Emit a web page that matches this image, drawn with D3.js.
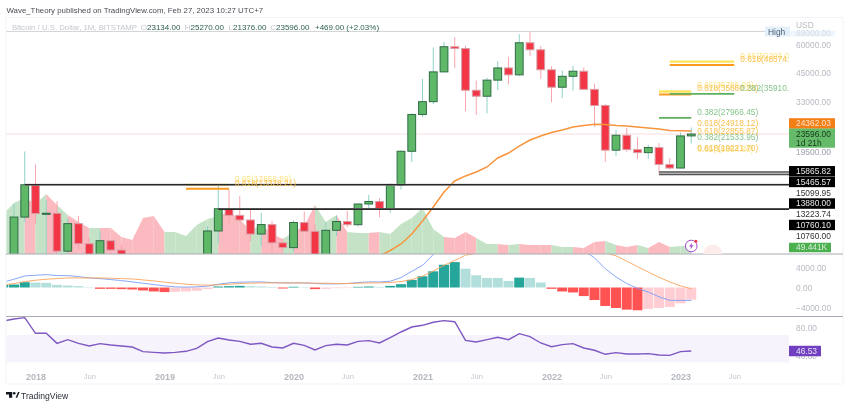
<!DOCTYPE html>
<html lang="en">

<head>
    <meta charset="UTF-8">
    <title>BTC monthly</title>
    <style>
        html, body {
            margin: 0;
            background: #fff;
        }

        svg {
            display: block;
            filter: blur(0.3px);
            font-family: "Liberation Sans", Arial, sans-serif;
        }

        .axis text {
            fill: #b7bac2;
            font-size: 8.4px;
        }
    </style>
    <script src="https://d3js.org/d3.v7.min.js"></script>
</head>

<body>
    <svg id="chart" width="850" height="407"></svg>

    <script>
        const months = [
            "2017-10", "2017-11", "2017-12",
            "2018-01", "2018-02", "2018-03", "2018-04", "2018-05", "2018-06", "2018-07", "2018-08", "2018-09", "2018-10", "2018-11", "2018-12",
            "2019-01", "2019-02", "2019-03", "2019-04", "2019-05", "2019-06", "2019-07", "2019-08", "2019-09", "2019-10", "2019-11", "2019-12",
            "2020-01", "2020-02", "2020-03", "2020-04", "2020-05", "2020-06", "2020-07", "2020-08", "2020-09", "2020-10", "2020-11", "2020-12",
            "2021-01", "2021-02", "2021-03", "2021-04", "2021-05", "2021-06", "2021-07", "2021-08", "2021-09", "2021-10", "2021-11", "2021-12",
            "2022-01", "2022-02", "2022-03", "2022-04", "2022-05", "2022-06", "2022-07", "2022-08", "2022-09", "2022-10", "2022-11", "2022-12",
            "2023-01", "2023-02"
        ];
        const futureMonths = ["2023-03", "2023-04", "2023-05", "2023-06"];

        const opens = [4340, 6440, 9900,
            13880, 10265, 10300, 6928, 9240, 7490, 6390, 7730, 7010, 6625, 6300, 4030,
            3690, 3430, 3810, 4100, 5260, 8560, 10800, 10080, 9600, 8290, 9150, 7560,
            7190, 9350, 8530, 6420, 8620, 9450, 9140, 11350, 11650, 10780, 13800, 19700,
            28950, 33100, 45200, 58800, 57700, 37300, 35040, 41460, 47100, 43820, 61300, 56950,
            46200, 38500, 43160, 45510, 37650, 31800, 19930, 23300, 20050, 19420, 20490, 17160,
            16530, 23134];
        const closes = [6440, 9900, 13880,
            10265, 10300, 6928, 9240, 7490, 6390, 7730, 7010, 6625, 6300, 4030, 3690,
            3430, 3810, 4100, 5260, 8560, 10800, 10080, 9600, 8290, 9150, 7560, 7190,
            9350, 8530, 6420, 8620, 9450, 9140, 11350, 11650, 10780, 13800, 19700, 28950,
            33100, 45200, 58800, 57700, 37300, 35040, 41460, 47100, 43820, 61300, 56950, 46200,
            38500, 43160, 45510, 37650, 31800, 19930, 23300, 20050, 19420, 20490, 17160, 16530,
            23134, 23596];
        const highs = [6470, 11400, 19666,
            17176, 11789, 11700, 9759, 10020, 7980, 8570, 7730, 7400, 6750, 6300, 4230,
            4070, 4200, 4100, 5650, 9000, 13880, 13200, 12320, 10900, 10370, 9500, 7900,
            9580, 10500, 9190, 9400, 10070, 10550, 11400, 12480, 12070, 14100, 19880, 29300,
            41950, 58350, 61780, 64900, 59500, 41300, 42500, 50500, 52900, 67000, 69000, 59100,
            47900, 45800, 48200, 47400, 40000, 32400, 24600, 25200, 22800, 21100, 21450, 18370,
            23960, 25270];
        const lows = [4110, 5370, 9400,
            9200, 5920, 6600, 6430, 6980, 5750, 6070, 5880, 6100, 6200, 3700, 3120,
            3350, 3380, 3670, 4050, 5200, 7450, 9100, 9400, 7710, 7300, 6500, 6430,
            6850, 8450, 3850, 6200, 8110, 8900, 8960, 10650, 9880, 10370, 13200, 17600,
            28130, 32300, 44950, 47000, 30000, 28800, 29300, 37300, 39600, 43200, 53300, 42000,
            32900, 34300, 37200, 37400, 25400, 17600, 18800, 19600, 18150, 18200, 15480, 16260,
            16500, 21376];

        // volume in thousands
        const volumes = [247, 315, 346,
            309, 371, 303, 241, 198, 161, 161, 161, 105, 87, 222, 235,
            136, 136, 111, 179, 216, 235, 260, 216, 142, 179, 124, 93,
            136, 173, 303, 198, 241, 136, 130, 130, 136, 124, 185, 222,
            284, 155, 105, 99, 136, 99, 62, 62, 56, 62, 56, 56,
            56, 43, 43, 37, 74, 80, 56, 43, 56, 37, 74, 43,
            50, 49.441];

        // moving average only reaches the pane from here on
        const smaStart = "2020-09";
        const smaValues = [6590, 6980, 7470, 8290,
            9500, 11000, 12860, 14440, 15220, 15860, 16720, 18360, 19340, 20810, 22160, 23110,
            23970, 24610, 25390, 25800, 26120, 26060, 25800, 25670, 25390, 25140, 24860, 24490,
            24440, 24362.03];

        const macdLine = [1070, 1670, 2330,
            2470, 2600, 2400, 2400, 2200, 1930, 1800, 1600, 1400, 1130, 870, 600,
            330, 130, 70, 130, 270, 670, 930, 1070, 1130, 1130, 1000, 930,
            930, 930, 800, 730, 730, 800, 1000, 1130, 1130, 1270, 2000, 3270,
            4470, 6670, 8400, 9600, 9000, 8000, 7600, 7700, 7600, 8600, 9000, 8500,
            8400, 8100, 7800, 7470, 6000, 3800, 2130, 800, -200, -930, -1870, -2600,
            -2600, -2600];
        const signalLine = [530, 800, 1200,
            1470, 1670, 1800, 1930, 1930, 1930, 1930, 1870, 1800, 1730, 1530, 1330,
            1070, 870, 670, 530, 470, 530, 670, 800, 870, 930, 930, 930,
            930, 930, 870, 870, 800, 800, 870, 930, 930, 1000, 1200, 1600,
            2270, 3330, 4470, 5470, 6530, 6900, 7200, 7300, 7400, 7500, 7700, 7900,
            7950, 7950, 7900, 7850, 7600, 7000, 6400, 5330, 4200, 3130, 2070, 1130,
            330, -270];
        const macdHist = [530, 600, 1070,
            1000, 930, 530, 400, 270, 70, -270, -270, -330, -400, -600, -800,
            -930, -870, -800, -670, -330, 200, 270, 330, 270, 200, 130, -200,
            150, 70, -330, -270, -130, -120, 130, 200, 130, 330, 670, 1530,
            2270, 3270, 4600, 5130, 3800, 2470, 1930, 1930, 1330, 2000, 1930, 1000,
            -270, -800, -1000, -1730, -2530, -3730, -4130, -4470, -4600, -4330, -4130, -3930,
            -3200, -2470];

        const rsiValues = [90.5, 93.4, 95.4,
            72.5, 72.5, 57.8, 63.2, 57.8, 53.9, 57.3, 55.4, 53.9, 52.4, 45.6, 44.6,
            43.7, 44.6, 46.1, 50.5, 60.3, 65.6, 62.7, 60.7, 56.4, 57.8, 52.4, 51,
            57.8, 54.9, 48.1, 54.4, 56.4, 55.4, 60.7, 61.7, 58.3, 66.1, 74.4, 81.7,
            84.2, 88.6, 91, 89.5, 62.2, 59.8, 63.2, 66.6, 63.2, 72, 67.6, 58.3,
            52.9, 55.9, 57.3, 51, 47.6, 41.7, 44.2, 42.2, 42.2, 42.7, 40.7, 40.2,
            45.6, 46.53];

        const priceTicks = [60000, 45000, 33000, 19500];
        const macdTicks = [4000, 0, -4000];
        const rsiTicks = [80, 40];
        const yearTicks = ["2018-01", "2019-01", "2020-01", "2021-01", "2022-01", "2023-01"];
        const halfTicks = ["2018-06", "2019-06", "2020-06", "2021-06", "2022-06", "2023-06"];

        // horizontal levels: price, from month, to month
        const supportLevels = [[13880, "2017-12"], [10760, "2019-06"], [15865.82, "2022-11"], [15465.57, "2022-11"]];
        const fibLevels618 = [[13328.21, "2019-03", "2019-07"], [48574, "2022-12", "2023-06"], [35660.23, "2022-11", "2023-02"]];
        const fibLevels65 = [[13856.89, "2019-03", "2019-07"], [50293, "2022-12", "2023-06"], [36786.99, "2022-11", "2023-02"]];
        const fibLevels382 = [[35910, "2022-12", "2023-06"], [27966.45, "2022-11", "2023-02"]];

        // text, price it sits over, month it starts after
        const fibLabels = [
            ["0.65(13856.89)", 13856.89, "2019-07"],
            ["0.618(13328.21)", 13328.21, "2019-07"],
            ["0.65(50293.0", 50293, "2023-06"],
            ["0.618(48574.", 48574, "2023-06"],
            ["0.65(36786.99)", 36786.99, "2023-02"],
            ["0.618(35660.23)", 35660.23, "2023-02"],
            ["0.382(35910.", 35910, "2023-06"],
            ["0.382(27966.45)", 27966.45, "2023-02"],
            ["0.618(24918.12)", 24918.12, "2023-02"],
            ["0.618(22855.87)", 22855.87, "2023-02"],
            ["0.382(21533.95)", 21533.95, "2023-02"],
            ["0.65(18854.80)", 18854.8, "2023-02"],
            ["0.618(19221.70)", 19221.7, "2023-02"]
        ];

        const legendValues = [["O", "23134.00"], ["H", "25270.00"], ["L", "21376.00"], ["C", "23596.00"]];
        const priceTags = ["15865.82", "15465.57", "15099.95", "13880.00", "13223.74", "10760.10", "10760.00"];
        const blackTags = ["15865.82", "15465.57", "13880.00", "10760.10"];

        const left = 6.5, axisX = 789, frameRight = 843;
        const paneBottom = 254, macdBottom = 316.5, frameBottom = 384;

        const svg = d3.select("#chart");

        const x = d3.scalePoint()
            .domain(months.concat(futureMonths))
            .range([3.25, 734.25]);
        const y = d3.scaleLog()
            .domain([60000, 10000])
            .range([44.8, 216.1]);
        const yVol = d3.scaleLinear().domain([0, 49.441]).range([paneBottom, 246]);
        const yMacd = d3.scaleLinear().domain([-4000, 4000]).range([307.3, 267.7]);
        const yRsi = d3.scaleLinear().domain([30, 70]).range([362.3, 335]);

        const defs = svg.append("defs");
        function addClip(id, top, bottom) {
            defs.append("clipPath").attr("id", id).append("rect")
                .attr("x", left).attr("y", top)
                .attr("width", axisX - left).attr("height", bottom - top);
        }
        addClip("clipPrice", 17, paneBottom);
        addClip("clipMacd", paneBottom, macdBottom);
        addClip("clipRsi", macdBottom, frameBottom);

        // frame
        svg.append("rect")
            .attr("x", 6).attr("y", 17.5)
            .attr("width", frameRight - 6).attr("height", frameBottom - 17.5)
            .attr("fill", "none").attr("stroke", "#f1f3f8");

        const pricePane = svg.append("g").attr("clip-path", "url(#clipPrice)");

        // volume, each stretch takes the colour of the month it ends on
        pricePane.append("g").selectAll("path")
            .data(months.slice(1))
            .join("path")
            .attr("d", (m, i) => d3.area()
                .x(d => x(d[0]))
                .y0(paneBottom)
                .y1(d => yVol(d[1]))([[months[i], volumes[i]], [m, volumes[i + 1]]]))
            .attr("fill", (m, i) => closes[i + 1] >= opens[i + 1] ? "#c4e3c6" : "#fbbac0");

        // price lines
        pricePane.append("line")
            .attr("x1", left).attr("x2", axisX)
            .attr("y1", y(69000)).attr("y2", y(69000))
            .attr("stroke", "#8b8e96").attr("stroke-width", 0.8).attr("stroke-dasharray", "1 1");
        pricePane.append("line")
            .attr("x1", left).attr("x2", axisX)
            .attr("y1", y(23596)).attr("y2", y(23596))
            .attr("stroke", "#f7a8ae").attr("stroke-width", 0.8).attr("stroke-dasharray", "1 1");

        // candles
        const candle = pricePane.append("g").selectAll("g")
            .data(months)
            .join("g");
        candle.append("line")
            .attr("x1", m => x(m)).attr("x2", m => x(m))
            .attr("y1", (m, i) => y(highs[i])).attr("y2", (m, i) => y(lows[i]))
            .attr("stroke", (m, i) => closes[i] >= opens[i] ? "#8dd2c6" : "#f8a6ad")
            .attr("stroke-width", 1);
        candle.append("rect")
            .attr("x", m => x(m) - 3.9)
            .attr("width", 7.8)
            .attr("y", (m, i) => y(Math.max(opens[i], closes[i])))
            .attr("height", (m, i) => Math.max(1, Math.abs(y(opens[i]) - y(closes[i]))))
            .attr("fill", (m, i) => closes[i] >= opens[i] ? "#5fb868" : "#f23645")
            .attr("stroke", (m, i) => closes[i] >= opens[i] ? "#2f6b45" : "#d9a0a8")
            .attr("stroke-width", 1);

        // moving average
        pricePane.append("path")
            .datum(smaValues)
            .attr("d", d3.line()
                .x((d, i) => x(months[months.indexOf(smaStart) + i]))
                .y(d => y(d)))
            .attr("fill", "none")
            .attr("stroke", "#f8943c")
            .attr("stroke-width", 1.5);

        // fib levels
        function drawLevels(levels, colour, dash, width) {
            svg.append("g").selectAll("line")
                .data(levels)
                .join("line")
                .attr("x1", d => x(d[1])).attr("x2", d => x(d[2]))
                .attr("y1", d => y(d[0])).attr("y2", d => y(d[0]))
                .attr("stroke", colour)
                .attr("stroke-width", width)
                .attr("stroke-dasharray", dash);
        }
        drawLevels(fibLevels65, "#fde25c", null, 2.4);
        drawLevels(fibLevels618, "#fb9a1e", null, 2);
        drawLevels(fibLevels382, "#5fb05f", null, 1.8);

        // supports and resistances
        supportLevels.forEach(([price, from]) => {
            svg.append("line")
                .attr("x1", x(from)).attr("x2", axisX)
                .attr("y1", y(price)).attr("y2", y(price))
                .attr("stroke", "#a5a5a5").attr("stroke-width", 2);
            svg.append("line")
                .attr("x1", x(from)).attr("x2", axisX)
                .attr("y1", y(price)).attr("y2", y(price))
                .attr("stroke", price > 15000 ? "#555" : "#000").attr("stroke-width", 1.1);
        });

        function fibColour(text) {
            if (text.startsWith("0.382")) return "#86c58c";
            if (text.startsWith("0.65")) return "#fde58a";
            return "#f9c14f";
        }
        svg.append("g").selectAll("text")
            .data(fibLabels)
            .join("text")
            .attr("x", d => x(d[2]) + 6)
            .attr("y", d => y(d[1]) - 6)
            .attr("dy", "0.35em")
            .attr("font-size", 8.3)
            .attr("fill", d => fibColour(d[0]))
            .text(d => d[0]);

        // MACD
        const macdPane = svg.append("g").attr("clip-path", "url(#clipMacd)");
        macdPane.append("g").selectAll("rect")
            .data(macdHist)
            .join("rect")
            .attr("x", (d, i) => x(months[i]) - 5)
            .attr("width", 10)
            .attr("y", d => Math.min(yMacd(d), yMacd(0)))
            .attr("height", d => Math.abs(yMacd(d) - yMacd(0)))
            .attr("fill", (d, i) => {
                const rising = i === 0 || d > macdHist[i - 1];
                if (d >= 0) return rising ? "#26a69a" : "#b2dfdb";
                return rising ? "#ffcdd2" : "#ff5252";
            });
        const macdPath = d3.line()
            .x((d, i) => x(months[i]))
            .y(d => yMacd(d));
        macdPane.append("path").datum(macdLine).attr("d", macdPath)
            .attr("fill", "none").attr("stroke", "#7a9df7").attr("stroke-width", 0.9);
        macdPane.append("path").datum(signalLine).attr("d", macdPath)
            .attr("fill", "none").attr("stroke", "#f9a45c").attr("stroke-width", 0.9);

        // RSI
        svg.append("rect")
            .attr("x", left).attr("width", axisX - left)
            .attr("y", yRsi(70)).attr("height", yRsi(30) - yRsi(70))
            .attr("fill", "#f6f3fc");
        svg.append("g").attr("clip-path", "url(#clipRsi)").append("path")
            .datum(rsiValues)
            .attr("d", d3.line()
                .x((d, i) => x(months[i]))
                .y(d => yRsi(d)))
            .attr("fill", "none")
            .attr("stroke", "#7e57c2")
            .attr("stroke-width", 1.4);

        // pane separators
        [paneBottom, macdBottom].forEach(py => {
            svg.append("line")
                .attr("x1", 6).attr("x2", frameRight)
                .attr("y1", py).attr("y2", py)
                .attr("stroke", "#a9acb4").attr("stroke-width", 1);
        });

        // axes
        function rightAxis(scale, ticks, fmt) {
            return svg.append("g")
                .attr("class", "axis")
                .attr("transform", `translate(${axisX},0)`)
                .call(d3.axisRight(scale).tickValues(ticks).tickSize(0).tickPadding(7).tickFormat(fmt))
                .call(g => g.select(".domain").remove());
        }
        const twoDecimals = d3.format(".2f");
        rightAxis(y, priceTicks, twoDecimals);
        rightAxis(yMacd, macdTicks, twoDecimals);
        rightAxis(yRsi, rsiTicks, twoDecimals);

        svg.append("g")
            .attr("class", "axis")
            .attr("transform", "translate(0,373.5)")
            .call(d3.axisBottom(x).tickValues(yearTicks.concat(halfTicks)).tickSize(0).tickPadding(0)
                .tickFormat(m => m.endsWith("-01") ? m.slice(0, 4) : "Jun"))
            .call(g => g.select(".domain").remove())
            .selectAll("text")
            .style("font-size", m => m.endsWith("-01") ? "9px" : "7.6px")
            .style("fill", m => m.endsWith("-01") ? "#b4b7bf" : "#c4c7ce")
            .attr("font-weight", m => m.endsWith("-01") ? "bold" : null);

        svg.append("text").attr("x", 796).attr("y", 28)
            .attr("font-size", 8.4).attr("fill", "#b7bac2").text("USD");

        // high marker
        svg.append("rect")
            .attr("x", 765).attr("y", 26.5).attr("width", 25).attr("height", 10)
            .attr("fill", "#e3eff9");
        svg.append("rect")
            .attr("x", 790).attr("y", 31).attr("width", 45).attr("height", 5.5)
            .attr("fill", "#eef5fc");
        svg.append("text").attr("x", 768).attr("y", 34.5)
            .attr("font-size", 8.4).attr("fill", "#4b5d78").text("High");
        svg.append("text").attr("x", 796).attr("y", 36)
            .attr("font-size", 8.4).attr("fill", "#d5dce8").text("69000.00");

        function tag(text, tagY, h, w, bg, colour) {
            svg.append("rect")
                .attr("x", axisX).attr("y", tagY - h / 2)
                .attr("width", w).attr("height", h)
                .attr("fill", bg);
            svg.append("text")
                .attr("x", axisX + 7).attr("y", tagY)
                .attr("dy", "0.35em")
                .attr("font-size", 8.4)
                .attr("fill", colour)
                .text(text);
        }

        tag("24362.03", y(24362.03) - 7.5, 10.5, 46, "#f57f17", "#fde3c8");
        tag("23596.00", 134, 11, 46, "#66bb6a", "#123a1a");
        tag("1d 21h", 143, 9.5, 46, "#66bb6a", "#123a1a");
        svg.append("text").attr("x", 796).attr("y", 155)
            .attr("font-size", 8.4).attr("fill", "#b7bac2").text("19500.00");

        priceTags.forEach((t, i) => {
            const black = blackTags.includes(t);
            tag(t, 171.3 + i * 10.75, 10.5, 46, black ? "#000" : "#fff", black ? "#e8e8e8" : "#333");
        });
        tag("49.441K", 247.5, 9.5, 42, "#4caf50", "#d8f0d9");
        tag("46.53", yRsi(46.53), 10.5, 32, "#7040c0", "#e6def7");

        // alert icon and faint marker past the last bar
        svg.append("path")
            .attr("d", d3.arc()({ innerRadius: 0, outerRadius: 9.5, startAngle: -Math.PI / 2, endAngle: Math.PI / 2 }))
            .attr("transform", `translate(${x("2023-04")},${paneBottom})`)
            .attr("fill", "#fdecec");
        const icon = svg.append("g").attr("transform", `translate(${x("2023-02")},246)`);
        icon.append("circle").attr("r", 5.8).attr("fill", "#fff").attr("stroke", "#a64ac9").attr("stroke-width", 1);
        icon.append("path").attr("d", "M1,-3.6 L-2.2,0.6 L-0.2,0.6 L-1,3.6 L2.2,-0.8 L0.2,-0.8 Z").attr("fill", "#a64ac9");
        icon.append("circle").attr("cx", 4.6).attr("cy", -4.8).attr("r", 1.5).attr("fill", "#f23645");

        // title and legend
        svg.append("text").attr("x", 6.5).attr("y", 13)
            .attr("font-size", 7.85).attr("fill", "#4a4d55")
            .text("Wave_Theory published on TradingView.com, Feb 27, 2023 10:27 UTC+7");
        svg.append("text").attr("x", 12).attr("y", 30)
            .attr("font-size", 7.8).attr("fill", "#c3c6ce")
            .text("Bitcoin / U.S. Dollar, 1M, BITSTAMP");

        const legendX = [147, 190.5, 233, 276];
        legendValues.forEach(([k, v], i) => {
            svg.append("text").attr("x", legendX[i]).attr("y", 30)
                .attr("text-anchor", "end")
                .attr("font-size", 8).attr("fill", "#c3c6ce").text(k);
            svg.append("text").attr("x", legendX[i]).attr("y", 30)
                .attr("font-size", 8).attr("fill", "#2d5f50").text(v);
        });
        svg.append("text").attr("x", 315).attr("y", 30)
            .attr("font-size", 8).attr("fill", "#2d5f50").text("+469.00 (+2.03%)");

        // footer logo
        const logo = svg.append("g").attr("transform", "translate(6,392)").attr("fill", "#131722");
        logo.append("path").attr("d", "M0,0 H6.2 V5.8 H3 V2.6 H0 Z");
        logo.append("circle").attr("cx", 8.2).attr("cy", 1.3).attr("r", 1.3);
        logo.append("path").attr("d", "M9.6,5.8 L12,0 H13.6 L11.2,5.8 Z");
        svg.append("text").attr("x", 21).attr("y", 399)
            .attr("font-size", 8.6).attr("fill", "#2a2e39").text("TradingView");
    </script>
</body>

</html>
